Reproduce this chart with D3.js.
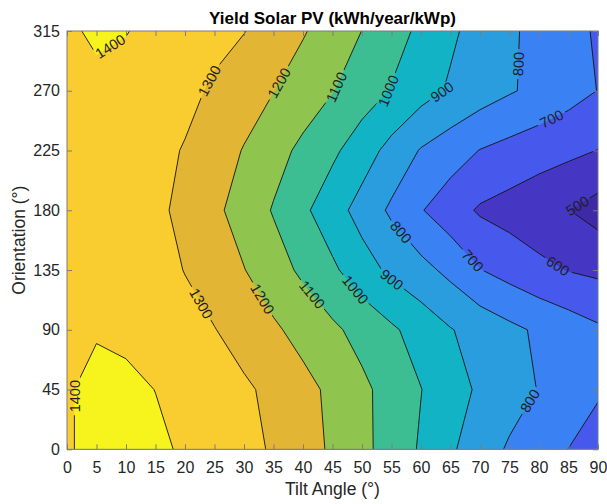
<!DOCTYPE html>
<html>
<head>
<meta charset="utf-8">
<script src="https://cdn.jsdelivr.net/npm/d3@7/dist/d3.min.js"></script>
<style>
html,body{margin:0;padding:0;background:#fff;}
svg text{font-family:"Liberation Sans", Arial, Helvetica, sans-serif;}
</style>
</head>
<body>
<svg id="chart" width="607" height="504"></svg>
<script>
// ---------- data ----------
const tiltAngles   = [0,5,10,15,20,25,30,35,40,45,50,55,60,65,70,75,80,85,90];
const orientations = [0,45,90,135,180,225,270,315];

// yield (kWh/year/kWp) along tilt angle, one array per orientation
const yieldOrient0   = [1390,1430,1428,1415,1390,1356,1325,1291,1240,1186,1125,1059,989,914,847,788,744,699,655];
const yieldOrient45  = [1390,1430,1418,1399,1371,1343,1315,1277,1230,1179,1121,1062,1002,941,885,841,796,753,712];
const yieldOrient90  = [1390,1391,1383,1360,1333,1303,1260,1215,1167,1118,1067,1015,960,905,864,823,785,752,715];
const yieldOrient135 = [1390,1380,1365,1337,1297,1250,1203,1143,1081,1017,943,879,831,774,703,663,626,596,580];
const yieldOrient180 = [1390,1370,1350,1323,1273,1220,1159,1093,1019,942,863,783,706,644,588,562,532,502,460];
const yieldOrient225 = [1390,1372,1352,1327,1294,1245,1195,1136,1078,1019,947,868,793,747,697,669,644,622,598];
const yieldOrient270 = [1390,1385,1370,1350,1325,1286,1244,1202,1153,1104,1049,994,938,888,848,809,775,738,698];
const yieldOrient315 = [1390,1410,1403,1378,1353,1328,1303,1256,1208,1155,1099,1040,980,916,864,815,771,730,689];

const contourLevels = [500,600,700,800,900,1000,1100,1200,1300,1400];
const bandColors = ["#3e2aa6","#4536c4","#4759ec","#3a82f3","#2a9ddf","#13b3c6","#3dbd92","#8fc44f","#e3b534","#f9cd2f","#f6f41c"];

const xTickValues = [0,5,10,15,20,25,30,35,40,45,50,55,60,65,70,75,80,85,90];
const yTickValues = [0,45,90,135,180,225,270,315];

// contour label anchors (level, approx tilt, approx orientation)
const labelLevels  = [1400,1300,1200,1100,1000,900,800,700,500,1300,1200,1100,1000,900,800,700,600,1400,800];
const labelTilts   = [7.3,25.5,36.6,46.4,54.9,63.6,77.3,82.4,86.6,23,33.4,41.7,49.1,55.2,56.3,68.6,83.6,1.3,78.5];
const labelOrients = [303.7,274.3,274.3,271.3,269,269,290,246.5,182.5,110.5,114,117,121,128.6,162.5,141.4,140.7,40,36.4];

const titleText = "Yield Solar PV (kWh/year/kWp)";
const xLabelText = "Tilt Angle (°)";
const yLabelText = "Orientation (°)";

// ---------- layout ----------
const W = 607, H = 504;
const plotLeft = 67, plotRight = 598, plotTop = 31, plotBottom = 449.3;
const textColor = "#262626";
const frameColor = "#7d7d7d";

const svg = d3.select("#chart");
const x = d3.scaleLinear().domain(d3.extent(tiltAngles)).range([plotLeft, plotRight]);
const y = d3.scaleLinear().domain(d3.extent(orientations)).range([plotBottom, plotTop]);

const yieldRows = [yieldOrient0,yieldOrient45,yieldOrient90,yieldOrient135,yieldOrient180,yieldOrient225,yieldOrient270,yieldOrient315];
const nx = tiltAngles.length, ny = orientations.length;
const values = yieldRows.flat();
const minV = d3.min(values);
const thresholds = [minV, ...contourLevels];
const contours = d3.contours().size([nx, ny]).thresholds(thresholds)(values);

const xStep = tiltAngles[1] - tiltAngles[0];
const yStep = orientations[1] - orientations[0];
function gridToScreen(p) {
  return [x(tiltAngles[0] + (p[0] - 0.5) * xStep), y(orientations[0] + (p[1] - 0.5) * yStep)];
}
const proj = d3.geoTransform({
  point: function(px, py) { const s = gridToScreen([px, py]); this.stream.point(s[0], s[1]); }
});
const path = d3.geoPath(proj);

const defs = svg.append("defs");
defs.append("clipPath").attr("id", "plotClip")
  .append("rect").attr("x", plotLeft).attr("y", plotTop)
  .attr("width", plotRight - plotLeft).attr("height", plotBottom - plotTop);
const mask = defs.append("mask").attr("id", "labelGaps")
  .attr("maskUnits", "userSpaceOnUse").attr("x", 0).attr("y", 0).attr("width", W).attr("height", H);
mask.append("rect").attr("x", 0).attr("y", 0).attr("width", W).attr("height", H).attr("fill", "white");

// filled bands
svg.append("g").attr("clip-path", "url(#plotClip)")
  .selectAll("path").data(contours).join("path")
  .attr("d", path)
  .attr("fill", (d, i) => bandColors[i])
  .attr("stroke", "none");

// contour lines
const lineContours = contours.filter(c => contourLevels.includes(c.value));
svg.append("g").attr("clip-path", "url(#plotClip)").attr("mask", "url(#labelGaps)")
  .selectAll("path").data(lineContours).join("path")
  .attr("d", path)
  .attr("fill", "none")
  .attr("stroke", "#141414")
  .attr("stroke-width", 0.9);

// ---------- contour labels ----------
function insidePlot(s) {
  return s[0] >= plotLeft - 0.01 && s[0] <= plotRight + 0.01 && s[1] >= plotTop - 0.01 && s[1] <= plotBottom + 0.01;
}
const labelG = svg.append("g");
labelLevels.forEach((lev, k) => {
  const c = contours.find(d => d.value === lev);
  if (!c) return;
  const target = [x(labelTilts[k]), y(labelOrients[k])];
  let best = null;
  c.coordinates.forEach(poly => poly.forEach(ring => {
    for (let i = 0; i < ring.length - 1; i++) {
      const a = gridToScreen(ring[i]), b = gridToScreen(ring[i + 1]);
      if (!insidePlot(a) || !insidePlot(b)) continue;
      const dx = b[0] - a[0], dy = b[1] - a[1];
      const len2 = dx * dx + dy * dy;
      if (len2 === 0) continue;
      let t = ((target[0] - a[0]) * dx + (target[1] - a[1]) * dy) / len2;
      t = Math.max(0, Math.min(1, t));
      const p = [a[0] + t * dx, a[1] + t * dy];
      const dist = Math.hypot(p[0] - target[0], p[1] - target[1]);
      if (!best || dist < best.dist) best = {dist, p, dx, dy};
    }
  }));
  if (!best) return;
  let ang = Math.atan2(best.dy, best.dx) * 180 / Math.PI;
  if (ang > 90) ang -= 180;
  if (ang < -90) ang += 180;
  if (ang > 85) ang -= 180;
  const t = labelG.append("text")
    .attr("transform", `translate(${best.p[0]},${best.p[1]}) rotate(${ang})`)
    .attr("text-anchor", "middle")
    .attr("dy", "0.36em")
    .attr("font-size", 14.5)
    .attr("fill", "#1e1e1e")
    .text(String(lev));
  const tw = t.node().getComputedTextLength();
  mask.append("rect")
    .attr("x", -tw / 2 - 3).attr("y", -6)
    .attr("width", tw + 6).attr("height", 12)
    .attr("transform", `translate(${best.p[0]},${best.p[1]}) rotate(${ang})`)
    .attr("fill", "black");
});

// ---------- axes ----------
function styleAxis(g) {
  g.select(".domain").remove();
  g.attr("font-size", 16).attr("font-family", '"Liberation Sans", Arial, sans-serif').attr("color", textColor);
  g.selectAll(".tick line").attr("stroke", frameColor);
}
svg.append("g").attr("transform", `translate(0,${plotBottom})`)
  .call(d3.axisBottom(x).tickValues(xTickValues).tickSize(-5).tickSizeOuter(0).tickPadding(12))
  .call(styleAxis);
svg.append("g").attr("transform", `translate(0,${plotTop})`)
  .call(d3.axisTop(x).tickValues(xTickValues).tickSize(-5).tickSizeOuter(0).tickFormat(() => ""))
  .call(styleAxis);
svg.append("g").attr("transform", `translate(${plotLeft},0)`)
  .call(d3.axisLeft(y).tickValues(yTickValues).tickSize(-5).tickSizeOuter(0).tickPadding(7))
  .call(styleAxis);
svg.append("g").attr("transform", `translate(${plotRight},0)`)
  .call(d3.axisRight(y).tickValues(yTickValues).tickSize(-5).tickSizeOuter(0).tickFormat(() => ""))
  .call(styleAxis);

svg.append("rect")
  .attr("x", plotLeft).attr("y", plotTop)
  .attr("width", plotRight - plotLeft).attr("height", plotBottom - plotTop)
  .attr("fill", "none").attr("stroke", frameColor).attr("stroke-width", 1);

// ---------- titles ----------
svg.append("text")
  .attr("x", (plotLeft + plotRight) / 2).attr("y", 24)
  .attr("text-anchor", "middle").attr("font-size", 17).attr("font-weight", "bold")
  .attr("fill", "#000").text(titleText);
svg.append("text")
  .attr("x", (plotLeft + plotRight) / 2).attr("y", 495)
  .attr("text-anchor", "middle").attr("font-size", 17.5)
  .attr("fill", textColor).text(xLabelText);
svg.append("text")
  .attr("transform", `translate(25,${(plotTop + plotBottom) / 2}) rotate(-90)`)
  .attr("text-anchor", "middle").attr("font-size", 17.5)
  .attr("fill", textColor).text(yLabelText);
</script>
</body>
</html>
